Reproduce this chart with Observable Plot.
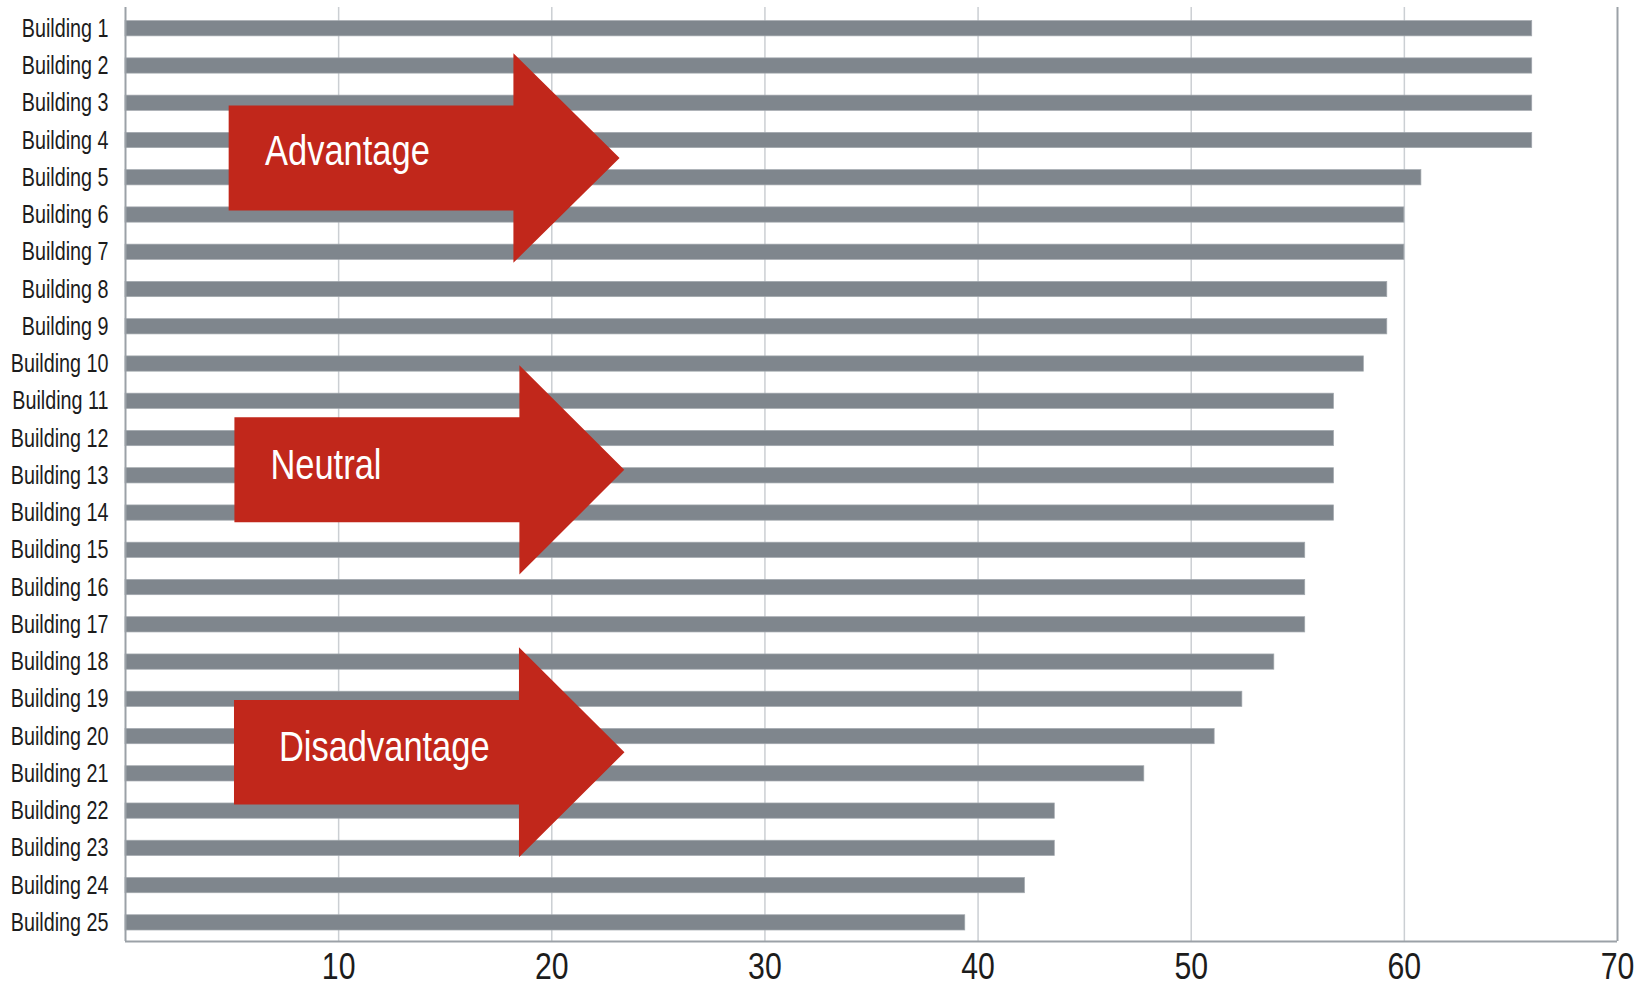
<!DOCTYPE html>
<html>
<head>
<meta charset="utf-8">
<script src="https://cdn.jsdelivr.net/npm/d3@7"></script>
<script src="https://cdn.jsdelivr.net/npm/@observablehq/plot@0.6"></script>
<style>
  html, body { margin: 0; padding: 0; background: #ffffff; }
  #chart { width: 1645px; height: 987px; }
  svg { font-family: "Liberation Sans", Arial, sans-serif; }
</style>
</head>
<body>
<div id="chart"></div>
<script>
// ---- data ----
const buildings = Array.from({length: 25}, (_, i) => `Building ${i + 1}`);
const values = [66, 66, 66, 66, 60.8, 60, 60, 59.2, 59.2, 58.1, 56.7, 56.7, 56.7, 56.7,
                55.35, 55.35, 55.35, 53.9, 52.4, 51.1, 47.8, 43.6, 43.6, 42.2, 39.4];
const xTicks = [10, 20, 30, 40, 50, 60, 70];
const gridTicks = [10, 20, 30, 40, 50, 60];

// annotation arrows (x in value units, y in row units, row 0 = Building 1)
const arrowLabels = ["Advantage", "Neutral", "Disadvantage"];
const arrowLeft   = [4.84, 5.11, 5.09];
const arrowBase   = [18.2, 18.48, 18.46];
const arrowTip    = [23.18, 23.4, 23.41];
const arrowCenter = [3.47, 11.84, 19.42];
const arrowBodyHalf = [1.41, 1.41, 1.40];
const arrowHeadHalf = [2.81, 2.81, 2.82];
const labelX = [6.55, 6.8, 7.2];
const labelY = [3.29, 11.72, 19.3];

// ---- derived tables ----
const rows = buildings.map((b, i) => ({name: b, row: i, value: values[i]}));
const arrowPts = [];
arrowLabels.forEach((lab, k) => {
  const c = arrowCenter[k], bh = arrowBodyHalf[k], hh = arrowHeadHalf[k];
  const pts = [
    [arrowLeft[k], c - bh], [arrowBase[k], c - bh], [arrowBase[k], c - hh],
    [arrowTip[k], c], [arrowBase[k], c + hh], [arrowBase[k], c + bh],
    [arrowLeft[k], c + bh], [arrowLeft[k], c - bh]
  ];
  pts.forEach(([x, y]) => arrowPts.push({label: lab, x, y}));
});
const arrowText = arrowLabels.map((lab, k) => ({label: lab, x: labelX[k], y: labelY[k]}));

const yTop = -0.57, yBottom = 24.5;
const axisColor = "#9ba1a7";
const gridColor = "#cbcfd3";
const barColor = "#7f868d";
const red = "#c1271b";

const chart = Plot.plot({
  width: 1645,
  height: 987,
  marginLeft: 125,
  marginRight: 28,
  marginTop: 7,
  marginBottom: 46,
  x: {domain: [0, 70]},
  y: {domain: [yBottom, yTop], axis: null},
  marks: [
    Plot.ruleX(gridTicks, {x: d => d, y1: yTop, y2: yBottom, stroke: gridColor, strokeWidth: 1.5}),
    Plot.rectX(rows, {x1: 0, x2: "value", y1: d => d.row - 0.205, y2: d => d.row + 0.205,
                      fill: barColor, stroke: "#a3a9ae", strokeWidth: 0.7}),
    Plot.ruleX([0, 70], {x: d => d, y1: yTop, y2: yBottom, stroke: axisColor, strokeWidth: 2}),
    Plot.ruleY([yBottom], {y: d => d, x1: 0, x2: 70, stroke: axisColor, strokeWidth: 2}),
    Plot.axisY(rows.map(d => d.row), {
      tickSize: 0, tickPadding: 17, fontSize: 25, fill: "#1c1c1c",
      tickFormat: i => buildings[i], label: null, className: "ylab"
    }),
    Plot.axisX(xTicks, {
      tickSize: 0, tickPadding: 12, fontSize: 36, fill: "#1c1c1c", label: null, className: "xlab"
    }),
    Plot.line(arrowPts, {x: "x", y: "y", z: "label", fill: red, stroke: "none", curve: "linear"}),
    Plot.text(arrowText, {x: "x", y: "y", text: "label", textAnchor: "start",
                          fill: "#ffffff", fontSize: 42, className: "alab"})
  ]
});
document.getElementById("chart").appendChild(chart);

// condense text horizontally (narrow typeface look)
function condense(selector, factor) {
  chart.querySelectorAll(selector).forEach(t => {
    const len = t.getComputedTextLength();
    if (len > 0) {
      t.setAttribute("textLength", (len * factor).toFixed(2));
      t.setAttribute("lengthAdjust", "spacingAndGlyphs");
    }
  });
}
condense(".ylab text", 0.79);
condense(".xlab text", 0.84);
condense(".alab text", 0.82);
</script>
</body>
</html>
